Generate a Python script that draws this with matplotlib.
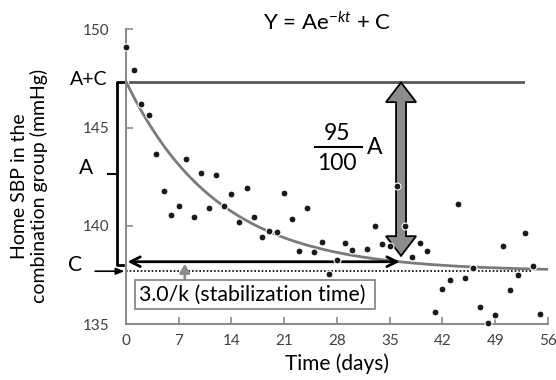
import numpy as np
import matplotlib.pyplot as plt

plt.rcParams['font.family'] = ['Lato', 'DejaVu Sans']
plt.rcParams['mathtext.fontset'] = 'custom'
plt.rcParams['mathtext.rm'] = 'Lato'
plt.rcParams['mathtext.it'] = 'Lato:italic'

# Tägliche Heim-SBP (Tag 31 fehlt)
days = [0, 1, 2, 3, 4, 5, 6, 7, 8, 9, 10, 11, 12, 13, 14, 15, 16, 17, 18, 19,
        20, 21, 22, 23, 24, 25, 26, 27, 28, 29, 30, 32, 33, 34, 35, 36, 37, 38,
        39, 40, 41, 42, 43, 44, 45, 46, 47, 48, 49, 50, 51, 52, 53, 54, 55]
sbp = [149.12, 147.95, 146.22, 145.66, 143.66, 141.80, 140.56, 141.01, 143.42,
       140.44, 142.72, 140.90, 142.58, 141.01, 141.65, 140.20, 141.93, 140.44,
       139.46, 139.75, 139.69, 141.66, 140.36, 138.73, 140.91, 138.68, 139.19,
       137.54, 138.26, 139.15, 138.78, 138.81, 139.98, 139.08, 139.00, 142.03,
       140.01, 138.44, 139.14, 138.72, 135.60, 136.81, 137.27, 141.14, 137.37,
       137.84, 135.88, 135.09, 135.46, 139.00, 136.76, 137.50, 139.65, 137.97,
       135.51]

# Modellparameter Y = A*exp(-k t) + C
A = 9.65
C = 137.7
k = 0.0826
t_stab = 3.0 / k

x_ticks = [0, 7, 14, 21, 28, 35, 42, 49, 56]
y_ticks = [135, 140, 145, 150]

fig = plt.figure(figsize=(5.56, 3.8), dpi=100)
ax = fig.add_axes([0.2266, 0.1466, 0.759, 0.776])
ax.set_xlim(0, 56)
ax.set_ylim(135, 150)

# Kurve und Linien
t = np.linspace(0, 56, 300)
ax.plot(t, A * np.exp(-k * t) + C, color='#7a7a7a', lw=2, zorder=3)
ax.plot([0.5, 52.7], [A + C, A + C], color='#595959', lw=2, zorder=2)
ax.plot([0, 53.9], [C, C], color='black', lw=1.2, ls=(0, (1, 1.2)), zorder=2)

# großer Doppelpfeil (95/100 A)
xc = 36.5
top = A + C - 0.05
bot = C + 0.05 * A + 0.3
sw, hw, hl = 0.66, 2.0, 1.0
verts = [(xc, top), (xc + hw, top - hl), (xc + sw, top - hl), (xc + sw, bot + hl),
         (xc + hw, bot + hl), (xc, bot), (xc - hw, bot + hl), (xc - sw, bot + hl),
         (xc - sw, top - hl), (xc - hw, top - hl)]
ax.add_patch(plt.Polygon(verts, closed=True, facecolor='#8c8c8c',
                         edgecolor='black', lw=1.3, zorder=4))

# Stabilisierungspfeil
ax.annotate('', xy=(t_stab, C + 0.05 * A), xytext=(0.2, C + 0.05 * A),
            arrowprops=dict(arrowstyle='<->,head_length=0.7,head_width=0.35',
                            color='black', lw=2, shrinkA=0, shrinkB=0), zorder=5)

# Messpunkte
ax.plot(days, sbp, 'o', color='#1a1a1a', ms=5, mec='white', mew=0.8,
        zorder=6, clip_on=False)

# Beschriftungen im Diagramm
ax.text(27.97, 144.73, '95', fontsize=16.5, ha='center', va='center')
ax.text(27.97, 143.2, '100', fontsize=16.5, ha='center', va='center')
ax.plot([25.1, 31.3], [144.0, 144.0], color='black', lw=1.5)
ax.text(33.0, 143.97, 'A', fontsize=16.5, ha='center', va='center')

ax.add_patch(plt.Rectangle((1.19, 135.78), 31.8, 1.47, fc='white',
                           ec='#808080', lw=1.2, zorder=7, clip_on=False))
box_txt = ax.text(16.8, 136.5, '3.0/k (stabilization time)', fontsize=15,
                  ha='center', va='center', zorder=8)
# Schriftgröße an Kastenbreite (ca. 225 px) anpassen
r = fig.canvas.get_renderer()
w = box_txt.get_window_extent(r).width
box_txt.set_fontsize(15 * 225 / w)

ax.annotate('', xy=(7.8, 138.07), xytext=(7.8, 137.25),
            arrowprops=dict(arrowstyle='-|>,head_length=0.5,head_width=0.3',
                            color='#8c8c8c', lw=2, shrinkA=0, shrinkB=0))

# Klammer links
bx = -1.2
ax.plot([-0.1, bx, bx, -0.4], [A + C, A + C, 138.02, 138.02],
        color='black', lw=2, clip_on=False)
ax.plot([bx, -2.4], [142.65, 142.65], color='black', lw=1.5, clip_on=False)
ax.annotate('', xy=(-0.2, C), xytext=(-4.1, C), annotation_clip=False,
            arrowprops=dict(arrowstyle='-|>,head_length=0.5,head_width=0.2',
                            color='black', lw=1.2, shrinkA=0, shrinkB=0))
ax.text(-5.0, A + C + 0.1, 'A+C', fontsize=14, ha='center', va='center')
ax.text(-5.3, 142.95, 'A', fontsize=15, ha='center', va='center')
ax.text(-6.7, 138.0, 'C', fontsize=15, ha='center', va='center')

fig.text(0.473, 0.94, r'Y = Ae$^{-kt}$ + C', fontsize=16, ha='left', va='center')

# Achsen
ax.set_xticks(x_ticks)
ax.set_yticks(y_ticks)
ax.tick_params(direction='in', length=5, color='#8c8c8c', labelcolor='#404040',
               labelsize=11, width=1.2)
ax.tick_params(axis='x', pad=7)
ax.tick_params(axis='y', pad=12)
for s in ['top', 'right']:
    ax.spines[s].set_visible(False)
for s in ['left', 'bottom']:
    ax.spines[s].set_color('#8c8c8c')
    ax.spines[s].set_linewidth(1.5)

ax.set_xlabel('Time (days)', fontsize=15, labelpad=4)
ax.set_ylabel('Home SBP in the\ncombination group (mmHg)', fontsize=14,
              linespacing=1.1)
ax.yaxis.set_label_coords(-0.185, 0.469)

fig.savefig('out.png', dpi=100)
